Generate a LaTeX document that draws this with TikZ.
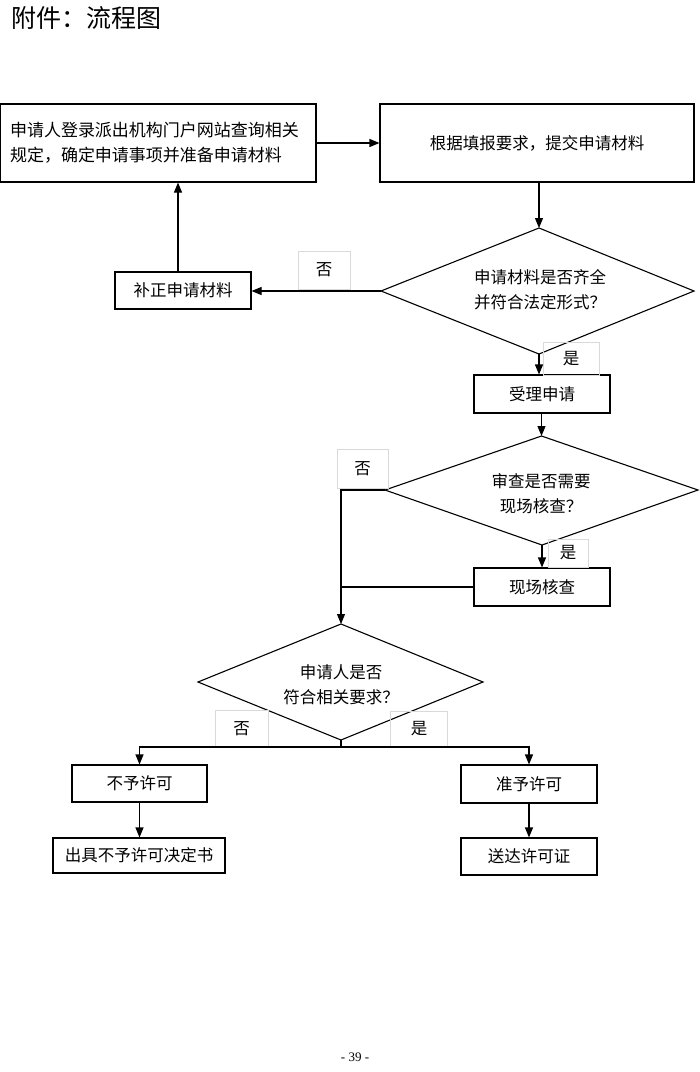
\documentclass[tikz,border=0pt]{standalone}
\usepackage{fontspec}
\setmainfont{Liberation Serif}
\newfontfamily\cjk{Noto Sans CJK SC}
\usetikzlibrary{arrows.meta}
\begin{document}
\begin{tikzpicture}[x=1pt,y=-1pt,
  every node/.style={font=\cjk\fontsize{16.5}{25}\selectfont, text=black},
  proc/.style={draw, line width=1.1pt, inner sep=0pt, align=center},
  dectext/.style={inner sep=0pt, align=center},
  decshape/.style={draw, line width=1.1pt, line join=miter},
  lab/.style={draw=black!15, line width=0.5pt, inner sep=0pt},
  arr/.style={line width=1.1pt, -{Triangle[length=10pt,width=8pt]}},
  ln/.style={line width=1.1pt}]
\useasboundingbox (0,0) rectangle (700,1072);
\node[anchor=west, font=\cjk\fontsize{25}{25}\selectfont] (title) at (8,18) {附件：流程图};
% process boxes
\node[proc, minimum width=316pt, minimum height=78pt, text width=296pt, align=left,
      font=\cjk\fontsize{17}{25}\selectfont] (A) at (158,143)
  {申请人登录派出机构门户网站查询相关\\规定，确定申请事项并准备申请材料};
\node[proc, minimum width=314pt, minimum height=78pt] (B) at (537,143) {根据填报要求，提交申请材料};
\node[proc, minimum width=136pt, minimum height=37pt] (fix) at (183,290.5) {补正申请材料};
\node[proc, minimum width=136pt, minimum height=38pt] (acc) at (542,394) {受理申请};
\node[proc, minimum width=136pt, minimum height=38pt] (site) at (542,587) {现场核查};
\node[proc, minimum width=135pt, minimum height=37pt] (no) at (139.5,783.5) {不予许可};
\node[proc, minimum width=172pt, minimum height=35pt] (nodoc) at (139,855.5) {出具不予许可决定书};
\node[proc, minimum width=136pt, minimum height=38pt] (yes) at (529,784) {准予许可};
\node[proc, minimum width=136pt, minimum height=37pt] (cert) at (529,856.5) {送达许可证};
% decisions
\coordinate (d1n) at (539,228); \coordinate (d1s) at (539,354);
\coordinate (d1w) at (381,291); \coordinate (d1e) at (694,291);
\draw[decshape] (d1n) -- (d1e) -- (d1s) -- (d1w) -- cycle;
\node[dectext] (d1) at (540,290) {申请材料是否齐全\\并符合法定形式？};
\coordinate (d2n) at (541.5,436); \coordinate (d2s) at (542,545);
\coordinate (d2w) at (385,490); \coordinate (d2e) at (698,490);
\draw[decshape] (d2n) -- (d2e) -- (d2s) -- (d2w) -- cycle;
\node[dectext] (d2) at (541,494) {审查是否需要\\现场核查？};
\coordinate (d3n) at (341,624); \coordinate (d3s) at (341,740);
\coordinate (d3w) at (198,682); \coordinate (d3e) at (483,682);
\draw[decshape] (d3n) -- (d3e) -- (d3s) -- (d3w) -- cycle;
\node[dectext] (d3) at (341,685) {申请人是否\\符合相关要求？};
% labels
\node[lab, minimum width=52pt, minimum height=38pt] (l1) at (324,270) {否};
\node[lab, minimum width=56pt, minimum height=33pt] (l2) at (571,358.5) {是};
\node[lab, minimum width=51pt, minimum height=39pt] (l3) at (362.5,468.5) {否};
\node[lab, minimum width=40pt, minimum height=28pt] (l4) at (568,553) {是};
\node[lab, minimum width=53pt, minimum height=37pt] (l5) at (241.5,728.5) {否};
\node[lab, minimum width=57pt, minimum height=36pt] (l6) at (419,729) {是};
% connectors
\draw[arr] (A.east) -- (B.west);
\draw[arr] (B.south -| d1n) -- (d1n);
\draw[arr] (d1w) -- (fix.east |- d1w);
\draw[arr] (fix.north -| 178,0) -- (A.south -| 178,0);
\draw[arr] (d1s) -- (acc.north -| d1s);
\draw[arr] (acc.south -| d2n) -- (d2n);
\coordinate (bend) at (341,490);
\draw[arr] (d2w) -- (bend) -- (d3n);
\draw[ln] (site.west) -- (site.west -| d3n);
\draw[arr] (d2s) -- (site.north -| d2s);
\coordinate (split) at (341,747);
\draw[ln] (d3s) -- (split);
\draw[arr] (split) -| (no.north);
\draw[arr] (split) -| (yes.north);
\draw[arr] (no.south) -- (nodoc.north -| no.south);
\draw[arr] (yes.south) -- (cert.north);
\node[font=\fontsize{13}{13}\selectfont] (page) at (355,1057) {- 39 -};
\end{tikzpicture}
\end{document}
